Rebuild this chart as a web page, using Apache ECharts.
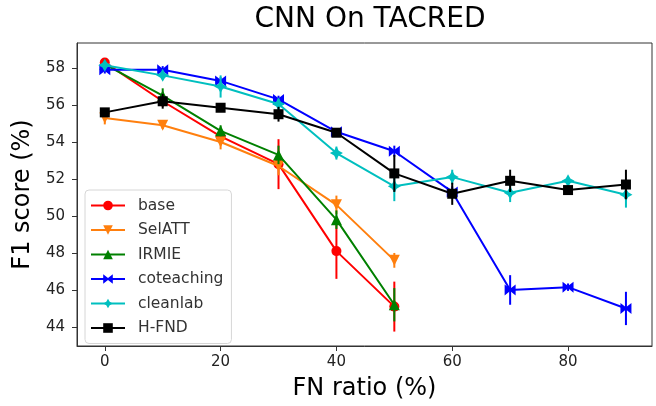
<!DOCTYPE html>
<html>
<head>
<meta charset="utf-8">
<script src="https://cdn.jsdelivr.net/npm/echarts@6/dist/echarts.min.js"></script>
<style>
  html, body { margin: 0; padding: 0; background: #fff; }
  #chart { width: 656px; height: 406px; }
</style>
</head>
<body>
<div id="chart"></div>
<script>
var dom = document.getElementById('chart');
var myChart = echarts.init(dom);

// FN ratio (%)
var ratios = [0, 10, 20, 30, 40, 50, 60, 70, 80, 90];
var xTicks = [0, 20, 40, 60, 80];
var yTicks = [44, 46, 48, 50, 52, 54, 56, 58];

// F1 score (%) and error bar half-widths
var baseVals = [58.3, 56.2, 54.3, 52.8, 48.1, 45.1];
var baseErr = [0.2, 0.3, 0.3, 1.35, 1.5, 1.35];
var selattVals = [55.3, 54.9, 54.0, 52.7, 50.6, 47.6];
var selattErr = [0.35, 0.2, 0.4, 0.5, 0.5, 0.4];
var irmieVals = [58.2, 56.5, 54.6, 53.3, 49.8, 45.2];
var irmieErr = [0.2, 0.4, 0.3, 0.5, 0.5, 0.9];
var coteachVals = [57.9, 57.9, 57.3, 56.3, 54.55, 53.5, 51.3, 46.0, 46.15, 45.0];
var coteachErr = [0.2, 0.2, 0.2, 0.2, 0.2, 0.3, 0.3, 0.8, 0.2, 0.9];
var cleanlabVals = [58.15, 57.6, 57.0, 56.05, 53.4, 51.6, 52.1, 51.25, 51.9, 51.15];
var cleanlabErr = [0.2, 0.2, 0.6, 0.3, 0.35, 0.8, 0.4, 0.5, 0.2, 0.7];
var hfndVals = [55.6, 56.2, 55.85, 55.5, 54.5, 52.3, 51.2, 51.9, 51.4, 51.7];
var hfndErr = [0.2, 0.4, 0.2, 0.4, 0.2, 1.0, 0.6, 0.6, 0.2, 0.8];

var bowtie = 'path://M0,0L5,4L10,0L10,10L5,6L0,10Z';
var star4 = 'path://M5,0L6.8,3.2L10,5L6.8,6.8L5,10L3.2,6.8L0,5L3.2,3.2Z';

var methods = [
    {name: 'base', color: '#ff0000', symbol: 'circle', size: 10, vals: baseVals, err: baseErr},
    {name: 'SelATT', color: '#ff7f0e', symbol: 'triangle', rotate: 180, size: 11, vals: selattVals, err: selattErr},
    {name: 'IRMIE', color: '#008000', symbol: 'triangle', size: 11, vals: irmieVals, err: irmieErr},
    {name: 'coteaching', color: '#0000ff', symbol: bowtie, size: 11, vals: coteachVals, err: coteachErr},
    {name: 'cleanlab', color: '#00bfbf', symbol: star4, size: 13, vals: cleanlabVals, err: cleanlabErr},
    {name: 'H-FND', color: '#000000', symbol: 'rect', size: 10, vals: hfndVals, err: hfndErr}
];

var series = [];
methods.forEach(function (m, i) {
    var pts = m.vals.map(function (v, j) { return [ratios[j], v]; });
    var bars = m.vals.map(function (v, j) { return [ratios[j], v - m.err[j], v + m.err[j]]; });
    series.push({
        type: 'custom',
        name: m.name + ' err',
        data: bars,
        z: 2 + i * 2,
        silent: true,
        renderItem: function (params, api) {
            var p1 = api.coord([api.value(0), api.value(1)]);
            var p2 = api.coord([api.value(0), api.value(2)]);
            return {
                type: 'line',
                shape: {x1: p1[0], y1: p1[1], x2: p2[0], y2: p2[1]},
                style: {stroke: m.color, lineWidth: 2}
            };
        }
    });
    series.push({
        type: 'line',
        name: m.name,
        data: pts,
        z: 3 + i * 2,
        symbol: m.symbol,
        symbolSize: m.size,
        symbolRotate: m.rotate || 0,
        showAllSymbol: true,
        lineStyle: {color: m.color, width: 2},
        itemStyle: {color: m.color, borderWidth: 0}
    });
});

var option = {
    animation: false,
    title: {
        text: 'CNN On TACRED',
        left: 365,
        textAlign: 'center',
        top: 1,
        textStyle: {fontFamily: 'DejaVu Sans', fontSize: 28, fontWeight: 'normal', color: '#000'}
    },
    legend: {
        data: methods.map(function (m) { return m.name; }),
        orient: 'vertical',
        left: 85,
        top: 190,
        padding: [6, 8, 6, 5],
        itemWidth: 34,
        itemHeight: 12,
        itemGap: 5.5,
        backgroundColor: 'rgba(255,255,255,0.8)',
        borderColor: '#d6d6d6',
        borderWidth: 1,
        borderRadius: 4,
        textStyle: {fontFamily: 'DejaVu Sans', fontSize: 15.5, color: '#333', lineHeight: 19, padding: [0, 0, 0, 8]}
    },
    grid: {left: 77, right: 4, top: 43, bottom: 56},
    xAxis: {
        type: 'value',
        min: -4.8,
        max: 94.5,
        name: 'FN ratio (%)',
        nameLocation: 'middle',
        nameGap: 31,
        nameTextStyle: {fontFamily: 'DejaVu Sans', fontSize: 24, color: '#000'},
        splitLine: {show: false},
        axisLine: {onZero: false, lineStyle: {color: '#333', width: 1}},
        axisTick: {show: true, length: 5, customValues: xTicks, lineStyle: {color: '#333'}},
        axisLabel: {customValues: xTicks, fontFamily: 'DejaVu Sans', fontSize: 15, color: '#222', margin: 9}
    },
    yAxis: {
        type: 'value',
        min: 42.97,
        max: 59.35,
        name: 'F1 score (%)',
        nameLocation: 'middle',
        nameGap: 38,
        nameTextStyle: {fontFamily: 'DejaVu Sans', fontSize: 24, color: '#000'},
        splitLine: {show: false},
        axisLine: {show: true, onZero: false, lineStyle: {color: '#333', width: 1}},
        axisTick: {show: true, length: 5, customValues: yTicks, lineStyle: {color: '#333'}},
        axisLabel: {customValues: yTicks, fontFamily: 'DejaVu Sans', fontSize: 15, color: '#222', margin: 12}
    },
    series: series
};

myChart.setOption(option);
// top and right spines
var tl = myChart.convertToPixel({gridIndex: 0}, [-4.8, 59.35]);
var br = myChart.convertToPixel({gridIndex: 0}, [94.5, 42.97]);
myChart.setOption({graphic: [{
    type: 'rect',
    silent: true,
    z: 0,
    shape: {x: tl[0], y: tl[1], width: br[0] - tl[0], height: br[1] - tl[1]},
    style: {fill: 'none', stroke: '#333', lineWidth: 1}
}]});
</script>
</body>
</html>
